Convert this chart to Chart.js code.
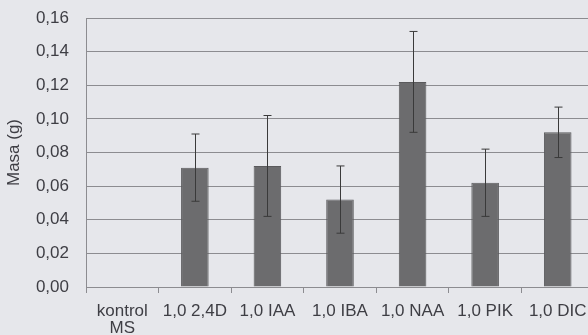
<!DOCTYPE html>
<html>
<head>
<meta charset="utf-8">
<script src="https://cdn.jsdelivr.net/npm/chart.js@4/dist/chart.umd.min.js"></script>
<style>
    html, body { margin: 0; padding: 0; overflow: hidden; background: #e6e7eb; }
    #wrap { width: 600px; height: 335px; }
</style>
</head>
<body>
<div id="wrap"><canvas id="masaChart" width="600" height="335"></canvas></div>
<script>
// データ
const categories = [['kontrol', 'MS'], '1,0 2,4D', '1,0 IAA', '1,0 IBA', '1,0 NAA', '1,0 PIK', '1,0 DIC'];
const masaValues = [0, 0.071, 0.072, 0.052, 0.122, 0.062, 0.092];
const masaErrors = [0, 0.020, 0.030, 0.020, 0.030, 0.020, 0.015];
const yTicks = [0, 0.02, 0.04, 0.06, 0.08, 0.10, 0.12, 0.14, 0.16];

const textColor = '#3e3e44';
const fontFamily = 'Arial, "Liberation Sans", sans-serif';

// エラーバー描画プラグイン
const errorBarPlugin = {
    id: 'errorBars',
    afterDatasetsDraw(chart) {
        const ctx = chart.ctx;
        const meta = chart.getDatasetMeta(0);
        const yScale = chart.scales.y;
        ctx.save();
        ctx.strokeStyle = '#3a3a3a';
        ctx.lineWidth = 1;
        meta.data.forEach((bar, i) => {
            const err = masaErrors[i];
            if (!err) return;
            const x = Math.round(bar.x) + 0.5;
            const top = yScale.getPixelForValue(masaValues[i] + err);
            const bottom = yScale.getPixelForValue(masaValues[i] - err);
            ctx.beginPath();
            ctx.moveTo(x, top);
            ctx.lineTo(x, bottom);
            ctx.moveTo(x - 4, top);
            ctx.lineTo(x + 4, top);
            ctx.moveTo(x - 4, bottom);
            ctx.lineTo(x + 4, bottom);
            ctx.stroke();
        });
        ctx.restore();
    }
};

const ctx = document.getElementById('masaChart').getContext('2d');
new Chart(ctx, {
    type: 'bar',
    data: {
        labels: categories,
        datasets: [{
            label: 'Masa (g)',
            data: masaValues,
            backgroundColor: '#6c6c6e',
            borderColor: '#5a5a5c',
            borderWidth: 1,
            categoryPercentage: 1,
            barPercentage: 0.38
        }]
    },
    options: {
        responsive: false,
        animation: false,
        layout: {
            padding: { top: 18, right: 6, left: 0, bottom: 0 }
        },
        plugins: {
            legend: { display: false },
            tooltip: { enabled: false }
        },
        scales: {
            x: {
                grid: {
                    offset: true,
                    drawOnChartArea: false,
                    drawTicks: true,
                    tickLength: 6,
                    color: '#8c8c90'
                },
                border: { color: '#8c8c90' },
                ticks: {
                    color: textColor,
                    font: { family: fontFamily, size: 17, lineHeight: 1.0 },
                    padding: 10,
                    maxRotation: 0,
                    autoSkip: false
                },
                afterFit(scale) {
                    scale.height = 48;
                    scale.paddingLeft = 0;
                    scale.paddingRight = 0;
                }
            },
            y: {
                min: 0,
                max: 0.16,
                afterBuildTicks(scale) {
                    scale.ticks = yTicks.map(v => ({ value: v }));
                },
                grid: {
                    color: '#8c8c90',
                    drawTicks: false
                },
                border: { color: '#8c8c90' },
                ticks: {
                    color: textColor,
                    font: { family: fontFamily, size: 17 },
                    padding: 17,
                    callback: v => v.toFixed(2).replace('.', ',')
                },
                title: {
                    display: true,
                    text: 'Masa (g)',
                    color: textColor,
                    font: { family: fontFamily, size: 17 },
                    padding: { top: 4, bottom: 0 }
                },
                afterFit(scale) {
                    scale.width = 86;
                    scale.paddingTop = 0;
                    scale.paddingBottom = 0;
                }
            }
        }
    },
    plugins: [errorBarPlugin]
});
</script>
</body>
</html>
